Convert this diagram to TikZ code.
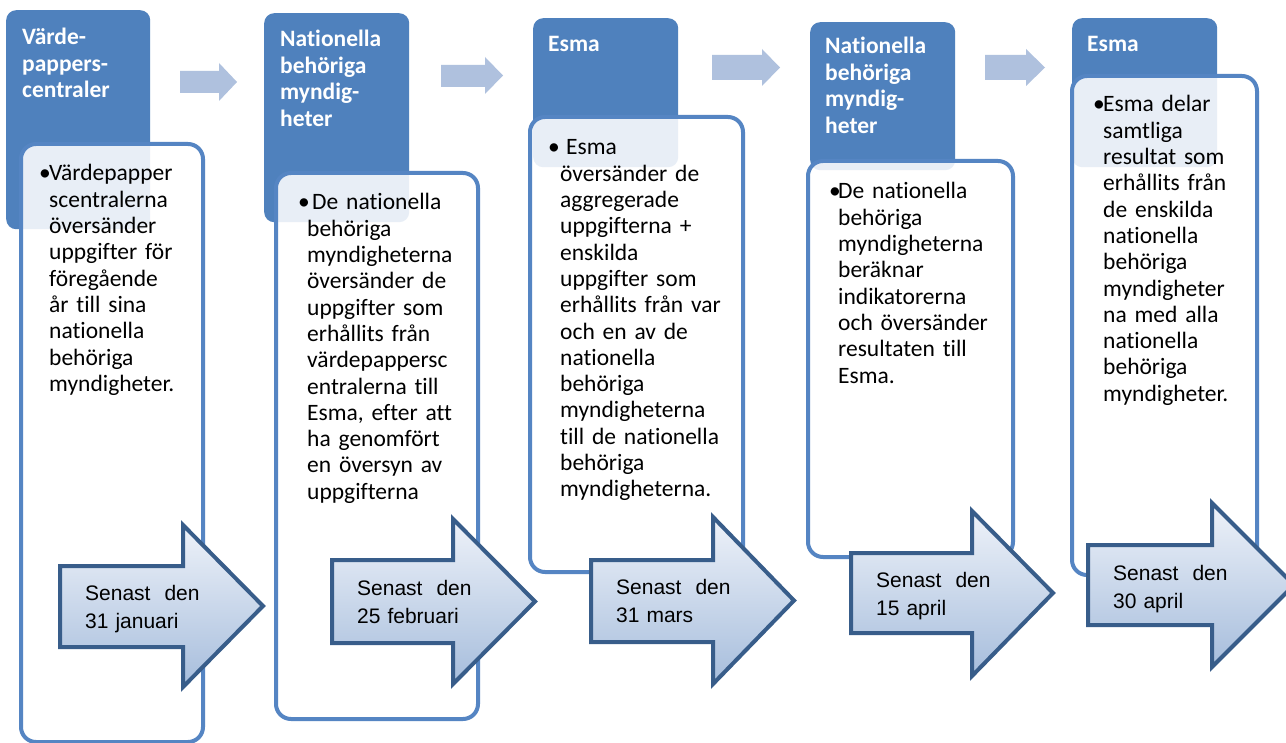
\documentclass[tikz,border=0pt]{standalone}
\usepackage{fontspec}
\setmainfont{Carlito}[Ligatures=NoCommon]
\newfontfamily\arialfont{Liberation Sans}
\definecolor{hdr}{HTML}{4F81BD}
\definecolor{boxline}{HTML}{5585C3}
\definecolor{arrline}{HTML}{385D8A}
\definecolor{arrtop}{HTML}{EEF2F9}
\definecolor{arrbot}{HTML}{A6BDDC}
\definecolor{smallarr}{HTML}{AFC1DE}
\begin{document}
\begin{tikzpicture}[x=1pt,y=-1pt,
  header/.style={rectangle, rounded corners=10pt, fill=hdr, inner sep=0pt, anchor=north west},
  stepbox/.style={rectangle, rounded corners=15pt, draw=boxline, line width=4pt, fill=white, fill opacity=0.87, inner sep=0pt, anchor=north west},
  htext/.style={anchor=base west, inner sep=0pt, text width=200pt, align=left, text=white, font=\fontsize{23.5}{26.5}\selectfont\bfseries},
  btext/.style={anchor=base west, inner sep=0pt, text width=240pt, align=left, text=black, font=\fontsize{23.5}{26.3}\selectfont},
  bullet/.style={anchor=base west, inner sep=0pt, text=black, font=\fontsize{23.5}{26.3}\selectfont},
  bigarrow/.style={draw=arrline, line width=4pt, top color=arrtop, bottom color=arrbot, miter limit=10},
  atext/.style={anchor=base west, inner sep=0pt, text width=200pt, align=left, text=black, font=\arialfont\fontsize{21}{28}\selectfont},
  smallarrow/.style={fill=smallarr}
]
\useasboundingbox (0,0) rectangle (1286,743);
\fill[white] (0,0) rectangle (1286,743);

% small connecting arrows
\fill[smallarrow] (180,71) -- (219,71) -- (219,63) -- (237,82) -- (219,101) -- (219,93) -- (180,93) -- cycle;
\fill[smallarrow] (441,65) -- (485,65) -- (485,57) -- (503,75.5) -- (485,94) -- (485,87) -- (441,87) -- cycle;
\fill[smallarrow] (712,55) -- (762,55) -- (762,49) -- (780,67.5) -- (762,86) -- (762,80) -- (712,80) -- cycle;
\fill[smallarrow] (985,55) -- (1026,55) -- (1026,49) -- (1045,67.5) -- (1026,86) -- (1026,80) -- (985,80) -- cycle;

% ---------- column 1
\node[header, minimum width=144pt, minimum height=219pt] (h1) at (6,10) {};
\node[htext] (h1t) at (22,45) {Värde-\\pappers-\\centraler};
\node[stepbox, minimum width=182pt, minimum height=598pt] (b1) at (19,142) {};
\node[bullet] (b1b) at (39,181) {•};
\node[btext] (b1t) at (49,181) {Värdepapper\\scentralerna\\översänder\\uppgifter för\\föregående\\år till sina\\nationella\\behöriga\\myndigheter.};
\path[bigarrow] (60,566) -- (183,566) -- (183,525) -- (263,606) -- (183,687) -- (183,647) -- (60,647) -- cycle;
\node[atext] (a1) at (85,600) {Senast\ \ den\\31 januari};

% ---------- column 2
\node[header, minimum width=145pt, minimum height=209pt] (h2) at (264,13) {};
\node[htext] (h2t) at (280,47) {Nationella\\behöriga\\myndig-\\heter};
\node[stepbox, minimum width=202pt, minimum height=546pt] (b2) at (274,171) {};
\node[bullet] (b2b) at (298,210) {•};
\node[btext] (b2t) at (307,210) {\hspace*{5pt}De nationella\\behöriga\\myndigheterna\\översänder de\\uppgifter som\\erhållits från\\värdepappersc\\entralerna till\\Esma, efter att\\ha genomfört\\en översyn av\\uppgifterna};
\path[bigarrow] (332,560) -- (453,560) -- (453,519) -- (535,601.5) -- (453,684) -- (453,643) -- (332,643) -- cycle;
\node[atext] (a2) at (357,595) {Senast\ \ den\\25 februari};

% ---------- column 3
\node[header, minimum width=145pt, minimum height=149pt] (h3) at (533,18) {};
\node[htext] (h3t) at (548,52) {Esma};
\node[stepbox, minimum width=213pt, minimum height=455pt] (b3) at (528,115) {};
\node[bullet] (b3b) at (548,155) {•};
\node[btext] (b3t) at (560,155) {\hspace*{6pt}Esma\\översänder de\\aggregerade\\uppgifterna +\\enskilda\\uppgifter som\\erhållits från var\\och en av de\\nationella\\behöriga\\myndigheterna\\till de nationella\\behöriga\\myndigheterna.};
\path[bigarrow] (591,560) -- (713,560) -- (713,517) -- (794,600.5) -- (713,684) -- (713,642) -- (591,642) -- cycle;
\node[atext] (a3) at (616,594) {Senast\ \ den\\31 mars};

% ---------- column 4
\node[header, minimum width=145pt, minimum height=148pt] (h4) at (810,22) {};
\node[htext] (h4t) at (825,54) {Nationella\\behöriga\\myndig-\\heter};
\node[stepbox, minimum width=205pt, minimum height=396pt] (b4) at (806,159) {};
\node[bullet] (b4b) at (829,199) {•};
\node[btext] (b4t) at (838,199) {De nationella\\behöriga\\myndigheterna\\beräknar\\indikatorerna\\och översänder\\resultaten till\\Esma.};
\path[bigarrow] (851,553) -- (972,553) -- (972,511) -- (1053,593) -- (972,676) -- (972,633) -- (851,633) -- cycle;
\node[atext] (a4) at (876,587) {Senast\ \ den\\15 april};

% ---------- column 5
\node[header, minimum width=145pt, minimum height=149pt] (h5) at (1072,18) {};
\node[htext] (h5t) at (1087,52) {Esma};
\node[stepbox, minimum width=185pt, minimum height=499pt] (b5) at (1070,74) {};
\node[bullet] (b5b) at (1093,112) {•};
\node[btext] (b5t) at (1103,112) {Esma delar\\samtliga\\resultat som\\erhållits från\\de enskilda\\nationella\\behöriga\\myndigheter\\na med alla\\nationella\\behöriga\\myndigheter.};
\path[bigarrow] (1088,545) -- (1212,545) -- (1212,503) -- (1294,585) -- (1212,667) -- (1212,625) -- (1088,625) -- cycle;
\node[atext] (a5) at (1113,580) {Senast\ \ den\\30 april};
\end{tikzpicture}
\end{document}
